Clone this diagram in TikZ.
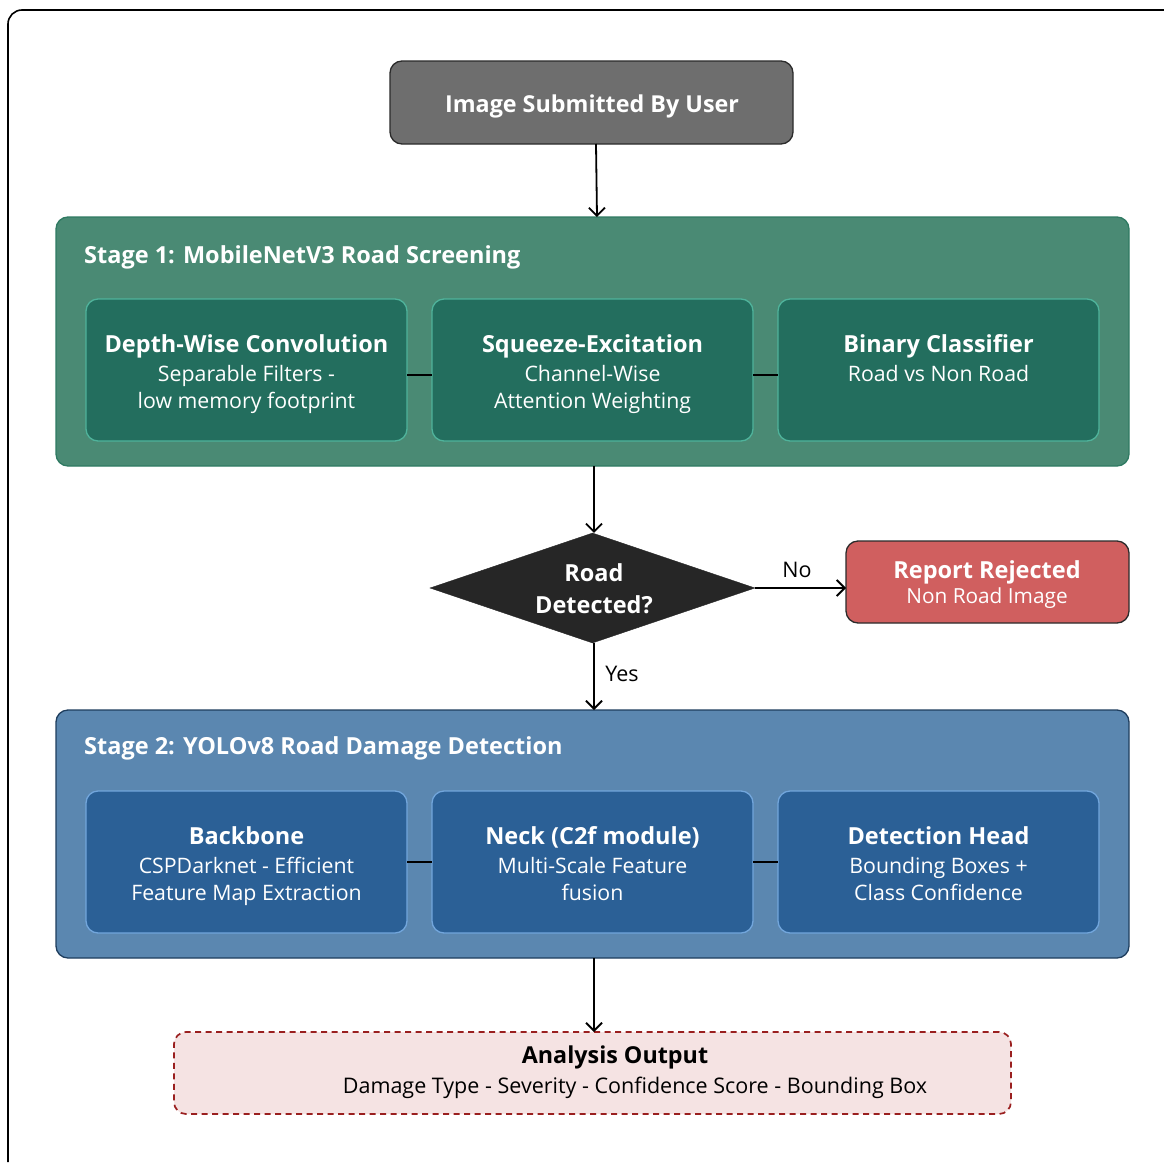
\documentclass[tikz,border=0pt]{standalone}
\usepackage{fontspec}
\setmainfont{Open Sans}
\usetikzlibrary{arrows.meta,shapes.geometric,calc}
\definecolor{graybox}{HTML}{6E6E6E}
\definecolor{darkline}{HTML}{2B2B2B}
\definecolor{sonefill}{HTML}{4A8A74}
\definecolor{soneline}{HTML}{2F7A62}
\definecolor{sonein}{HTML}{236E5E}
\definecolor{soneinline}{HTML}{4FB39B}
\definecolor{diafill}{HTML}{262626}
\definecolor{rejfill}{HTML}{D05F5F}
\definecolor{stwofill}{HTML}{5B87B0}
\definecolor{stwoline}{HTML}{1F3E5E}
\definecolor{stwoin}{HTML}{2B6096}
\definecolor{stwoinline}{HTML}{72A6DC}
\definecolor{outfill}{HTML}{F5E3E3}
\definecolor{outline}{HTML}{9A1F1F}
\tikzset{
  boxbase/.style={rectangle, rounded corners=12pt, inner sep=0pt, outer sep=0pt, line width=1.3pt},
  graynode/.style={boxbase, draw=darkline, fill=graybox},
  stageone/.style={boxbase, draw=soneline, fill=sonefill},
  inone/.style={boxbase, draw=soneinline, fill=sonein, minimum width=321pt, minimum height=142pt},
  stagetwo/.style={boxbase, draw=stwoline, fill=stwofill},
  intwo/.style={boxbase, draw=stwoinline, fill=stwoin, minimum width=321pt, minimum height=142pt},
  rejnode/.style={boxbase, draw=darkline, fill=rejfill},
  outnode/.style={boxbase, draw=outline, fill=outfill, line width=1.7pt, dash pattern=on 6pt off 4.5pt},
  dianode/.style={diamond, fill=diafill, draw=diafill, inner sep=0pt, minimum width=325pt, minimum height=110pt},
  ttl/.style={anchor=base, inner sep=0pt, text=white, font=\fontsize{23.5}{27}\selectfont\bfseries},
  sub/.style={anchor=base, inner sep=0pt, text=white, font=\fontsize{21.3}{25}\selectfont},
  stagettl/.style={anchor=base west, inner sep=0pt, text=white, font=\fontsize{23.5}{27}\selectfont\bfseries},
  lbl/.style={anchor=base, inner sep=0pt, text=black, font=\fontsize{21.5}{25}\selectfont},
  arr/.style={-{Straight Barb[length=8pt,width=16pt,line width=1.8pt]}, line width=1.8pt, black},
  link/.style={line width=2pt, black},
}
\begin{document}
\begin{tikzpicture}[x=1pt,y=-1pt]
\useasboundingbox (0,0) rectangle (1164,1162);
\fill[white] (0,0) rectangle (1164,1162);
% outer frame
\draw[line width=1.6pt, rounded corners=14pt] (8,1162) -- (8,10) -- (1164,10);

% top box
\node[graynode, minimum width=403pt, minimum height=83pt] (img) at (591.5,102.5) {};
\node[ttl, font=\fontsize{23.3}{27}\selectfont\bfseries] (imgt) at (592,112.5) {Image Submitted By User};

% stage 1
\node[stageone, minimum width=1073pt, minimum height=249pt] (s1) at (592.5,341.5) {};
\node[stagettl] (s1t) at (84,263) {Stage 1: MobileNetV3 Road Screening};
\node[inone] (a1) at (246.5,370) {};
\node[inone] (a2) at (592.5,370) {};
\node[inone] (a3) at (938.5,370) {};
\draw[link] ([yshift=-5pt]a1.east) -- ([yshift=-5pt]a2.west);
\draw[link] ([yshift=-5pt]a2.east) -- ([yshift=-5pt]a3.west);
\node[ttl] (a1t) at (246.5,352) {Depth-Wise Convolution};
\node[sub] (a1s) at (246.5,381) {Separable Filters -};
\node[sub] (a1u) at (246.5,408) {low memory footprint};
\node[ttl] (a2t) at (592.5,352) {Squeeze-Excitation};
\node[sub] (a2s) at (592.5,381) {Channel-Wise};
\node[sub] (a2u) at (592.5,408) {Attention Weighting};
\node[ttl] (a3t) at (938.5,352) {Binary Classifier};
\node[sub] (a3s) at (938.5,381) {Road vs Non Road};

% decision
\node[dianode] (dia) at (592.5,588) {};
\node[ttl] (diat) at (594,581) {Road};
\node[ttl] (dias) at (594,613) {Detected?};
\draw[arr] ([xshift=1.5pt]s1.south) -- ([xshift=1.5pt]dia.north);

% rejected
\node[rejnode, minimum width=283pt, minimum height=82pt] (rej) at (987.5,582) {};
\node[ttl] (rejt) at (987,578) {Report Rejected};
\node[sub, font=\fontsize{20.8}{24}\selectfont] (rejs) at (987,603) {Non Road Image};
\draw[arr] (dia.east) -- (dia.east -| rej.west);
\node[lbl] (no) at (797,577) {No};

% stage 2
\node[stagetwo, minimum width=1073pt, minimum height=248pt] (s2) at (592.5,834) {};
\node[stagettl] (s2t) at (84,754) {Stage 2: YOLOv8 Road Damage Detection};
\node[intwo] (b1) at (246.5,862) {};
\node[intwo] (b2) at (592.5,862) {};
\node[intwo] (b3) at (938.5,862) {};
\draw[link] (b1.east) -- (b2.west);
\draw[link] (b2.east) -- (b3.west);
\node[ttl] (b1t) at (246.5,844) {Backbone};
\node[sub] (b1s) at (246.5,873) {CSPDarknet - Efficient};
\node[sub] (b1u) at (246.5,900) {Feature Map Extraction};
\node[ttl] (b2t) at (592.5,844) {Neck (C2f module)};
\node[sub] (b2s) at (592.5,873) {Multi-Scale Feature};
\node[sub] (b2u) at (592.5,900) {fusion};
\node[ttl] (b3t) at (938.5,844) {Detection Head};
\node[sub] (b3s) at (938.5,873) {Bounding Boxes +};
\node[sub] (b3u) at (938.5,900) {Class Confidence};
\draw[arr] ([xshift=1.5pt]dia.south) -- ([xshift=1.5pt]s2.north);
\node[lbl] (yes) at (622,681) {Yes};

% output
\node[outnode, minimum width=837pt, minimum height=82pt] (out) at (592.5,1073) {};
\node[lbl, font=\fontsize{23.3}{27}\selectfont\bfseries] (outt) at (615,1063) {Analysis Output};
\node[lbl] (outs) at (635,1093) {Damage Type - Severity - Confidence Score - Bounding Box};
\draw[arr] ([xshift=1.5pt]s2.south) -- ([xshift=1.5pt]out.north);
\draw[arr] ([xshift=4.5pt]img.south) -- ([xshift=4.5pt]s1.north);
\end{tikzpicture}
\end{document}
